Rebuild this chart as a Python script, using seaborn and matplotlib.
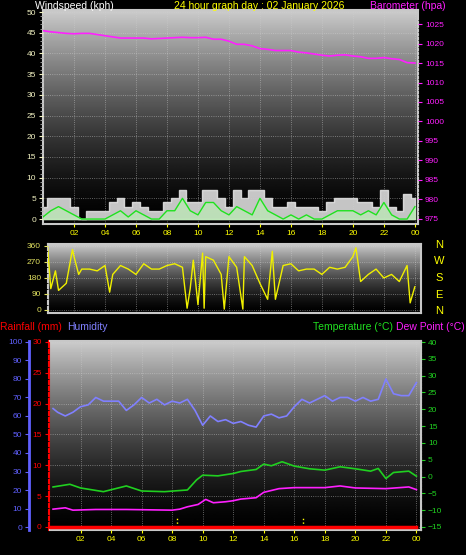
import numpy as np
import matplotlib
matplotlib.use("Agg")
import matplotlib.pyplot as plt
import seaborn as sns

plt.rcParams['font.family'] = ['Liberation Sans', 'DejaVu Sans']

W, H = 466, 555

# ── Data ─────────────────────────────────────────────────────────────────────
half_hours = [i * 0.5 for i in range(49)]
baro = [1023.3, 1023.0, 1022.8, 1022.6, 1022.5, 1022.6, 1022.6, 1022.3, 1022.0, 1021.7,
        1021.4, 1021.4, 1021.4, 1021.4, 1021.2, 1021.3, 1021.4, 1021.5, 1021.6, 1021.5,
        1021.5, 1021.6, 1021.1, 1021.1, 1020.6, 1019.8, 1019.8, 1019.4, 1018.7, 1018.5,
        1018.2, 1018.2, 1018.2, 1017.8, 1017.6, 1017.3, 1017.0, 1016.8, 1017.0, 1017.1,
        1016.8, 1016.6, 1016.2, 1016.2, 1016.4, 1016.1, 1015.9, 1015.1, 1015.0]
gust = [3, 5, 5, 5, 3, 0, 2, 2, 2, 4, 5, 3, 4, 3, 2, 2, 4, 5, 7, 4, 4, 7, 7, 5, 3,
        7, 5, 7, 7, 5, 3, 3, 4, 3, 3, 3, 2, 4, 5, 5, 5, 4, 4, 3, 7, 3, 2, 6, 5]
avg_wind = [0.5, 2, 3, 2, 1, 0, 0, 0, 0, 1, 2, 0.5, 2, 1, 0, 0, 2, 2, 5, 2, 1, 4, 4, 2, 1,
            3, 2, 1, 5, 2, 1, 0, 1, 0, 1, 0, 0, 1, 2, 2, 2, 1, 2, 1, 4, 1, 0, 0, 3]

dir_hours = [0.3, 0.5, 0.8, 1.0, 1.5, 1.9, 2.0, 2.3, 2.5, 3.0, 3.5, 4.0, 4.3, 4.5, 5.0, 5.5,
             6.0, 6.5, 7.0, 7.5, 8.0, 8.5, 9.0, 9.3, 9.5, 9.7, 10.0, 10.3, 10.4, 10.5, 11.0,
             11.5, 11.7, 12.0, 12.5, 12.9, 13.0, 13.5, 14.0, 14.5, 14.8, 15.0, 15.5, 16.0,
             16.5, 17.0, 17.5, 18.0, 18.5, 19.0, 19.5, 20.0, 20.2, 20.5, 21.0, 21.5, 22.0,
             22.5, 23.0, 23.5, 23.7, 24.0]
direction = [350, 120, 220, 110, 150, 340, 300, 200, 230, 230, 220, 250, 100, 200, 250, 230,
             200, 260, 230, 230, 250, 260, 240, 10, 120, 280, 30, 320, 10, 300, 280,
             200, 5, 300, 240, 5, 300, 250, 150, 60, 330, 60, 250, 260,
             220, 230, 230, 200, 240, 230, 240, 300, 350, 160, 200, 230, 180,
             200, 160, 250, 40, 130]

hum_hours = [0.2] + [i * 0.5 for i in range(1, 49)]
humidity = [64, 62, 60, 62, 65, 66, 70, 68, 68, 68, 63, 66, 70, 67, 69, 66, 68, 67, 69, 63,
            55, 60, 57, 58, 56, 57, 55, 54, 60, 61, 59, 60, 65, 69, 67, 69, 71, 68, 70, 70,
            68, 70, 68, 69, 80, 72, 71, 71, 78]

temp_hours = [0.2, 1.3, 2.0, 3.5, 5.0, 6.0, 7.5, 9.0, 9.6, 10.0, 11.0, 12.0, 12.5, 13.5,
              14.0, 14.5, 15.2, 16.0, 17.0, 18.0, 19.0, 20.0, 21.0, 21.5, 22.0, 22.5, 23.5, 24.0]
temperature = [-3.1, -2.3, -3.4, -4.5, -2.8, -4.3, -4.5, -4.0, -1.0, 0.4, 0.2, 0.9, 1.5, 2.1,
               3.7, 3.2, 4.4, 3.1, 2.3, 1.9, 2.9, 2.3, 1.6, 2.4, -0.6, 1.2, 1.6, 0.1]

dew_hours = [0.2, 1.0, 1.5, 3.0, 5.0, 8.0, 8.5, 9.0, 9.7, 10.2, 10.7, 11.5, 12.0, 12.5,
             13.5, 14.0, 15.0, 16.0, 17.0, 18.0, 19.0, 20.0, 22.0, 23.5, 24.0]
dew_point = [-9.7, -9.3, -10.0, -9.8, -9.8, -10.0, -9.7, -9.0, -8.3, -6.8, -7.8, -7.5, -7.2,
             -6.7, -6.3, -4.7, -3.6, -3.3, -3.3, -3.3, -2.8, -3.4, -3.6, -3.1, -3.9]

rain_hours = [0.0, 24.0]
rainfall = [0.0, 0.0]

hour_ticks = list(range(2, 25, 2))
hour_labels = [f"{h % 24:02d}" for h in hour_ticks]


def rect(x0, y0, x1, y1):
    return [x0 / W, 1 - y1 / H, (x1 - x0) / W, (y1 - y0) / H]


def style_panel(ax):
    t = np.linspace(0, 1, 256)
    grad = (0.80 * (1 - t) ** 1.5).reshape(-1, 1)
    ax.imshow(grad, cmap="gray", vmin=0, vmax=1, aspect="auto", extent=[0, 1, 0, 1],
              transform=ax.transAxes, zorder=0)
    ax.set_facecolor("black")
    for s in ax.spines.values():
        s.set_color("#c8c8c8")
        s.set_linewidth(1.5)
    ax.grid(True, color="#d0d0d0", linestyle=":", linewidth=0.6, alpha=0.6)
    ax.set_axisbelow(False)
    ax.set_xticks(hour_ticks)
    ax.set_xticklabels(hour_labels)
    ax.tick_params(axis="x", colors="#ffff00", labelsize=6, length=2, pad=2)


fig = plt.figure(figsize=(W / 100, H / 100), dpi=100, facecolor="black")

# ── Top: wind + barometer ───────────────────────────────────────────────────
ax1 = fig.add_axes(rect(43, 10, 418, 224))
style_panel(ax1)
ax1.fill_between(half_hours, gust, step="mid", color="#e8e8e8", alpha=0.85, zorder=2)
ax1.fill_between(half_hours, avg_wind, color="#b8f0b0", alpha=0.6, zorder=3)
sns.lineplot(x=half_hours, y=avg_wind, ax=ax1, color="#20e020", linewidth=1, zorder=4)
ax1.set_xlim(0, 24.2)
ax1.set_ylim(-1.2, 50.5)
ax1.set_yticks(range(0, 51, 5))
ax1.set_yticks(range(0, 51, 1), minor=True)
ax1.tick_params(axis="y", colors="#f0f0c0", labelsize=6, length=3, pad=2)
ax1.tick_params(axis="y", which="minor", colors="#b0b0b0", length=2)
ax1b = ax1.twinx()
sns.lineplot(x=half_hours, y=baro, ax=ax1b, color="#ff20ff", linewidth=1.2, zorder=5)
ax1b.set_ylim(973.7, 1028.6)
ax1b.set_yticks(range(975, 1026, 5))
ax1b.set_yticks(range(975, 1027, 1), minor=True)
ax1b.tick_params(axis="y", colors="#ff20ff", labelsize=6, length=3, pad=2)
ax1b.tick_params(axis="y", which="minor", length=2)
for s in ax1b.spines.values():
    s.set_visible(False)

fig.text(35 / W, 1 - 6 / H, "Windspeed (kph)", color="white", fontsize=7.5, va="center")
fig.text(259 / W, 1 - 6 / H, "24 hour graph day : 02 January 2026", color="#ffff00",
         fontsize=7.5, va="center", ha="center")
fig.text(446 / W, 1 - 6 / H, "Barometer (hpa)", color="#ff20ff", fontsize=7.5, va="center",
         ha="right")

# ── Middle: wind direction ──────────────────────────────────────────────────
ax2 = fig.add_axes(rect(48, 244, 421, 313))
style_panel(ax2)
sns.lineplot(x=dir_hours, y=direction, ax=ax2, color="#f0f000", linewidth=1, zorder=3)
ax2.set_xlim(0.32, 24.4)
ax2.set_ylim(-17, 371)
ax2.set_yticks(range(0, 361, 90))
ax2.set_yticks(range(0, 361, 30), minor=True)
ax2.tick_params(axis="y", colors="#e0e060", labelsize=6, length=3, pad=2)
ax2.tick_params(axis="x", bottom=False, labelbottom=False)
for lab, yp in zip(["N", "W", "S", "E", "N"], [245, 261, 278, 295, 311]):
    fig.text(439 / W, 1 - yp / H, lab, color="#ffff00", fontsize=8, ha="center", va="center")

# ── Bottom: rain / humidity / temperature / dew point ───────────────────────
ax3 = fig.add_axes(rect(50, 341, 421, 530))
style_panel(ax3)
ax3.set_xlim(0, 24.3)
ax3.set_ylim(-0.49, 30.16)
ax3.set_yticks(range(0, 31, 5))
ax3.set_yticks(range(0, 31, 1), minor=True)
ax3.tick_params(axis="y", colors="#ff0000", labelsize=6, length=3, pad=2)
ax3.tick_params(axis="y", which="minor", length=2)
ax3.spines["left"].set_color("#ff0000")
ax3.spines["left"].set_position(("outward", 1))
sns.lineplot(x=rain_hours, y=rainfall, ax=ax3, color="#ff0000", linewidth=2.5, zorder=6)
for h in [8.3, 16.6]:
    ax3.plot([h, h], [0, 1.7], color="#ffff00", linestyle=":", linewidth=1, zorder=5)

ax3h = ax3.twinx()
ax3h.yaxis.tick_left()
ax3h.spines["left"].set_position(("outward", 15))
ax3h.spines["left"].set_color("#6060ff")
ax3h.spines["left"].set_linewidth(2)
for k in ["right", "top", "bottom"]:
    ax3h.spines[k].set_visible(False)
sns.lineplot(x=hum_hours, y=humidity, ax=ax3h, color="#8080ff", linewidth=1.2, zorder=4)
ax3h.set_ylim(-1.6, 100.5)
ax3h.set_yticks(range(0, 101, 10))
ax3h.set_yticks(range(0, 101, 5), minor=True)
ax3h.tick_params(axis="y", colors="#6060ff", labelsize=6, length=3, pad=2)
ax3h.tick_params(axis="y", which="minor", length=2)

ax3t = ax3.twinx()
for k in ["left", "top", "bottom"]:
    ax3t.spines[k].set_visible(False)
ax3t.spines["right"].set_color("#c8c8c8")
sns.lineplot(x=temp_hours, y=temperature, ax=ax3t, color="#20d020", linewidth=1.2, zorder=4)
sns.lineplot(x=dew_hours, y=dew_point, ax=ax3t, color="#ff20ff", linewidth=1.2, zorder=4)
ax3t.set_ylim(-15.9, 40.3)
ax3t.set_yticks(range(-15, 41, 5))
ax3t.set_yticks(range(-15, 41, 1), minor=True)
ax3t.tick_params(axis="y", colors="#20d020", labelsize=6, length=3, pad=2)
ax3t.tick_params(axis="y", which="minor", length=2)

fig.text(0, 1 - 327 / H, "Rainfall (mm)", color="#ff0000", fontsize=7.5, va="center")
fig.text(67 / W, 1 - 327 / H, "Humidity", color="#8080ff", fontsize=7.5, va="center")
fig.text(313 / W, 1 - 327 / H, "Temperature (°C)", color="#20e020", fontsize=7.5, va="center")
fig.text(465 / W, 1 - 327 / H, "Dew Point (°C)", color="#ff20ff", fontsize=7.5, va="center",
         ha="right")

fig.savefig("out.png", dpi=100, facecolor="black")
